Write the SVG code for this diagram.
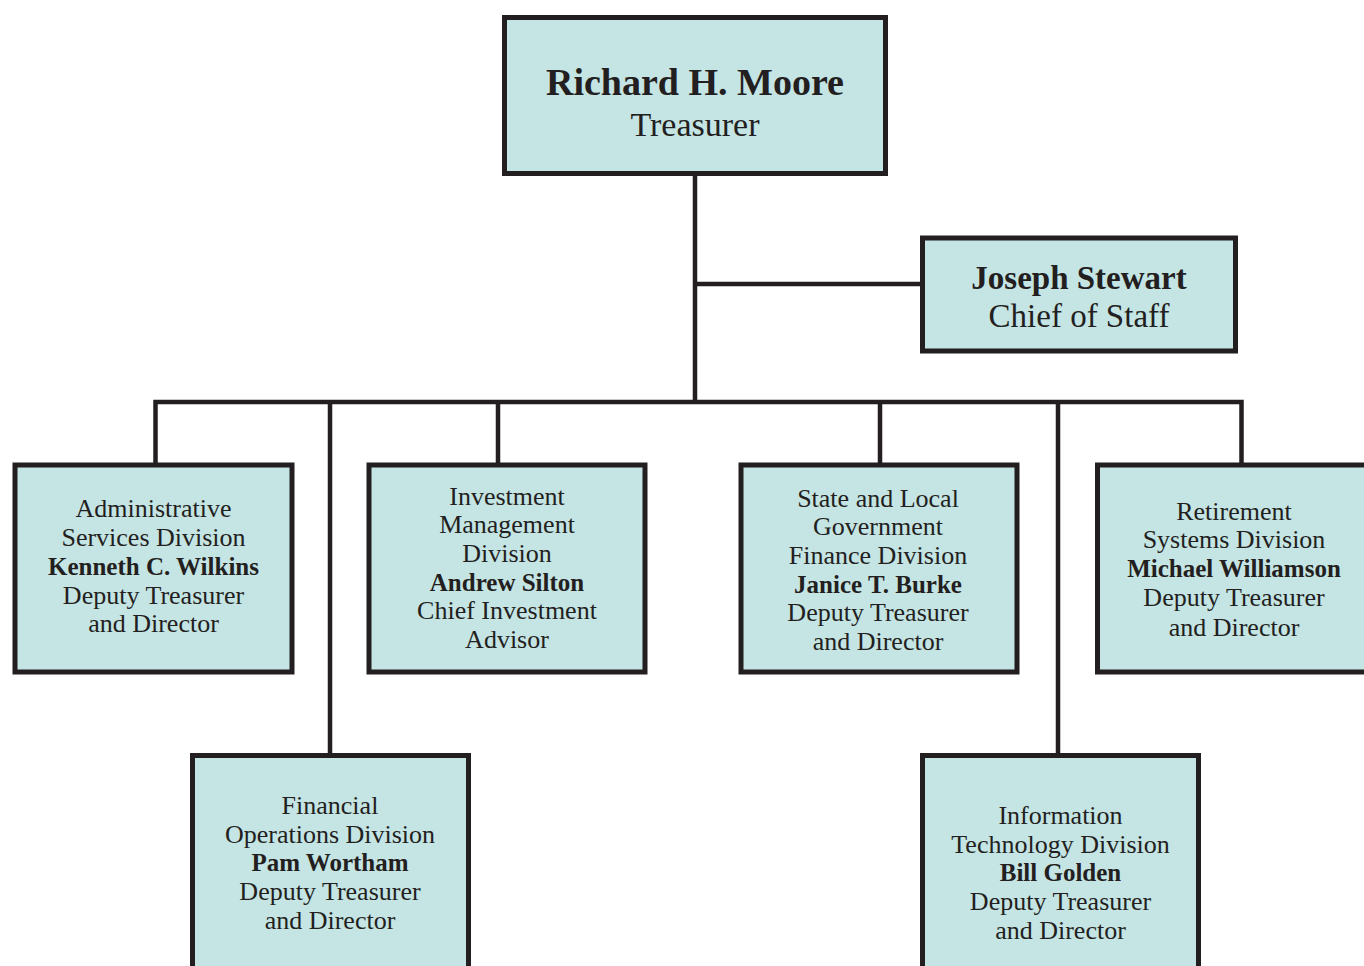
<svg xmlns="http://www.w3.org/2000/svg" width="1364" height="966" viewBox="0 0 1364 966">
<style>
.box{fill:#c5e4e4;stroke:#231f20;stroke-width:5}
.ln{fill:none;stroke:#231f20;stroke-width:4.5;stroke-linejoin:miter;stroke-linecap:butt}
text{font-family:"Liberation Serif","Times New Roman",serif;fill:#231f20;text-anchor:middle}
.d{font-size:26px}
.b{font-weight:bold}
.d .b{font-size:25px}
</style>
<rect width="1364" height="966" fill="#ffffff"/>
<g id="connectors">
<path class="ln" d="M695 174 V402"/>
<path class="ln" d="M695 284 H921"/>
<path class="ln" d="M155.5 465 V402 H1241.5 V465"/>
<path class="ln" d="M330 402 V755"/>
<path class="ln" d="M498 402 V465"/>
<path class="ln" d="M880 402 V465"/>
<path class="ln" d="M1058 402 V755"/>
</g>
<g id="treasurer">
<rect class="box" x="504.5" y="17.5" width="381" height="156"/>
<text x="695" y="95" class="b" font-size="38">Richard H. Moore</text>
<text x="695" y="136" font-size="34">Treasurer</text>
</g>
<g id="chief-of-staff">
<rect class="box" x="922.5" y="238" width="313" height="113"/>
<text x="1079" y="289" class="b" font-size="33">Joseph Stewart</text>
<text x="1079" y="327" font-size="33">Chief of Staff</text>
</g>
<g id="administrative" class="d">
<rect class="box" x="15" y="465" width="277" height="207"/>
<text x="153.5" y="517">Administrative</text>
<text x="153.5" y="546">Services Division</text>
<text x="153.5" y="575" class="b">Kenneth C. Wilkins</text>
<text x="153.5" y="604">Deputy Treasurer</text>
<text x="153.5" y="632">and Director</text>
</g>
<g id="investment" class="d">
<rect class="box" x="369" y="465" width="276" height="207"/>
<text x="507" y="505">Investment</text>
<text x="507" y="533">Management</text>
<text x="507" y="562">Division</text>
<text x="507" y="591" class="b">Andrew Silton</text>
<text x="507" y="619">Chief Investment</text>
<text x="507" y="648">Advisor</text>
</g>
<g id="state-local" class="d">
<rect class="box" x="741" y="465" width="276" height="207"/>
<text x="878" y="507">State and Local</text>
<text x="878" y="535">Government</text>
<text x="878" y="564">Finance Division</text>
<text x="878" y="593" class="b">Janice T. Burke</text>
<text x="878" y="621">Deputy Treasurer</text>
<text x="878" y="650">and Director</text>
</g>
<g id="retirement" class="d">
<rect class="box" x="1097.5" y="465" width="274" height="207"/>
<text x="1234" y="520">Retirement</text>
<text x="1234" y="548">Systems Division</text>
<text x="1234" y="577" class="b">Michael Williamson</text>
<text x="1234" y="606">Deputy Treasurer</text>
<text x="1234" y="636">and Director</text>
</g>
<g id="financial-operations" class="d">
<rect class="box" x="192.5" y="755.5" width="276" height="250"/>
<text x="330" y="814">Financial</text>
<text x="330" y="843">Operations Division</text>
<text x="330" y="871" class="b">Pam Wortham</text>
<text x="330" y="900">Deputy Treasurer</text>
<text x="330" y="929">and Director</text>
</g>
<g id="information-technology" class="d">
<rect class="box" x="922.5" y="755.5" width="276" height="250"/>
<text x="1060.5" y="824">Information</text>
<text x="1060.5" y="853">Technology Division</text>
<text x="1060.5" y="881" class="b">Bill Golden</text>
<text x="1060.5" y="910">Deputy Treasurer</text>
<text x="1060.5" y="939">and Director</text>
</g>
</svg>
